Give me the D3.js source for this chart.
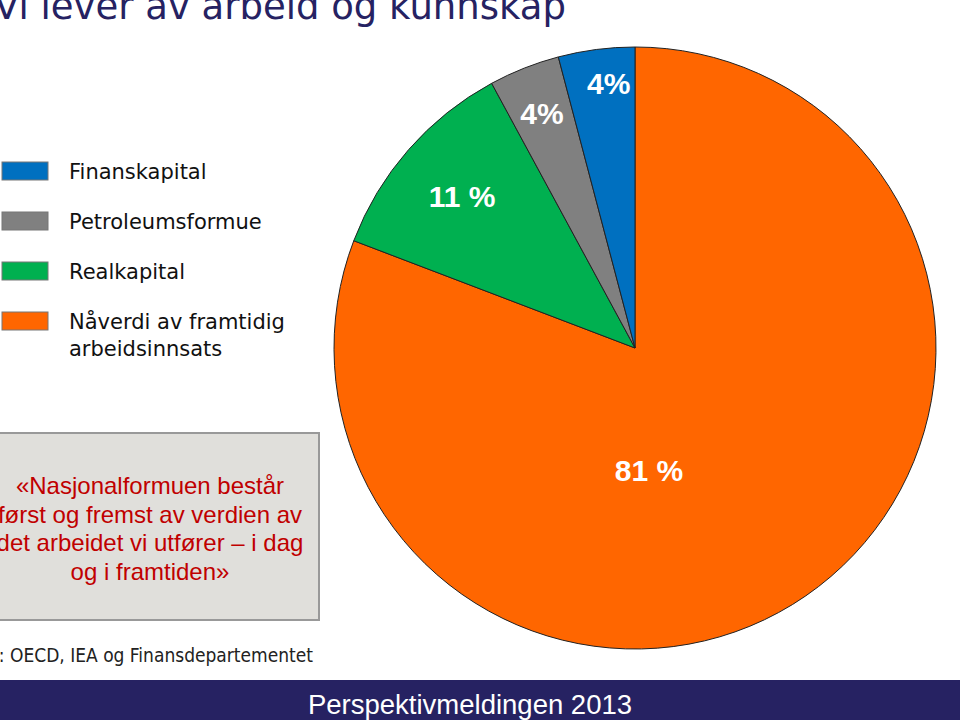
<!DOCTYPE html>
<html><head><meta charset="utf-8">
<script src="https://cdn.jsdelivr.net/npm/d3@7/dist/d3.min.js"></script>
<style>body{margin:0;background:#fff}svg{display:block}</style>
</head><body><svg id="c" width="960" height="720"></svg>
<script>
const categories = ["Nåverdi av framtidig arbeidsinnsats", "Realkapital", "Petroleumsformue", "Finanskapital"];
const values = [80.8, 11.3, 3.8, 4.1];
const valueLabels = ["81 %", "11 %", "4%", "4%"];
const colors = ["#FF6600", "#00B050", "#808080", "#0070C0"];
const legendOrder = ["Finanskapital", "Petroleumsformue", "Realkapital", "Nåverdi av framtidig arbeidsinnsats"];
const legendLines = {"Nåverdi av framtidig arbeidsinnsats": ["Nåverdi av framtidig", "arbeidsinnsats"]};
const titleText = "Vi lever av arbeid og kunnskap";
const quoteLines = ["«Nasjonalformuen består", "først og fremst av verdien av", "det arbeidet vi utfører – i dag", "og i framtiden»"];
const sourceText = "Kilde: OECD, IEA og Finansdepartementet";
const footerText = "Perspektivmeldingen 2013";

const svg = d3.select("#c");
const color = d3.scaleOrdinal().domain(categories).range(colors);

// title
svg.append("text").attr("x", -6).attr("y", 19)
  .attr("font-family", "DejaVu Sans").attr("font-size", 37).attr("fill", "#262262")
  .text(titleText);

// pie
const cx = 635, cy = 348, R = 301;
const pie = d3.pie().sort(null).value(d => d.v);
const data = pie(categories.map((c, i) => ({c, v: values[i], l: valueLabels[i]})));
const arc = d3.arc().innerRadius(0).outerRadius(R);
const g = svg.append("g").attr("transform", `translate(${cx},${cy})`);
g.selectAll("path").data(data).join("path")
  .attr("d", arc).attr("fill", d => color(d.data.c))
  .attr("stroke", "#222").attr("stroke-width", 1);

const labelRadius = [123, 230, 253, 266];
const labelAngleShift = [0.49, 0, 0.0, 0.03];
g.selectAll("text.lbl").data(data).join("text").attr("class", "lbl")
  .attr("transform", (d, i) => {
    const a = (d.startAngle + d.endAngle) / 2 + labelAngleShift[i];
    const r = labelRadius[i];
    return `translate(${Math.sin(a) * r},${-Math.cos(a) * r})`;
  })
  .attr("text-anchor", "middle").attr("dy", "0.36em")
  .attr("font-family", "Liberation Sans, Arial").attr("font-weight", "bold")
  .attr("font-size", 30).attr("fill", "#fff")
  .text(d => d.data.l);

// legend
const ly = d3.scalePoint().domain(legendOrder).range([171, 321]);
const lg = svg.append("g");
legendOrder.forEach(c => {
  const y = ly(c);
  lg.append("rect").attr("x", 2).attr("y", y - 9).attr("width", 46).attr("height", 18)
    .attr("fill", color(c)).attr("stroke", "#777").attr("stroke-width", 1);
  const lines = legendLines[c] || [c];
  lines.forEach((t, k) => {
    lg.append("text").attr("x", 69).attr("y", y + 8 + k * 27)
      .attr("font-family", "DejaVu Sans").attr("font-size", 21).attr("fill", "#111")
      .text(t);
  });
});

// quote box
svg.append("rect").attr("x", -5).attr("y", 433).attr("width", 324).attr("height", 187)
  .attr("fill", "#E0DFDB").attr("stroke", "#999").attr("stroke-width", 2);
quoteLines.forEach((t, k) => {
  svg.append("text").attr("x", 150).attr("y", 494 + k * 28.7).attr("text-anchor", "middle")
    .attr("font-family", "Liberation Sans, Arial").attr("font-size", 24).attr("fill", "#C00000")
    .text(t);
});

// source
svg.append("text").attr("x", 313).attr("y", 662).attr("text-anchor", "end")
  .attr("font-family", "DejaVu Sans Condensed, DejaVu Sans").attr("font-size", 19).attr("fill", "#222")
  .text(sourceText);

// footer
svg.append("rect").attr("x", 0).attr("y", 680).attr("width", 960).attr("height", 40).attr("fill", "#262262");
svg.append("text").attr("x", 470).attr("y", 714).attr("text-anchor", "middle")
  .attr("font-family", "Liberation Sans, Arial").attr("font-size", 27.5).attr("fill", "#fff")
  .text(footerText);
</script></body></html>
